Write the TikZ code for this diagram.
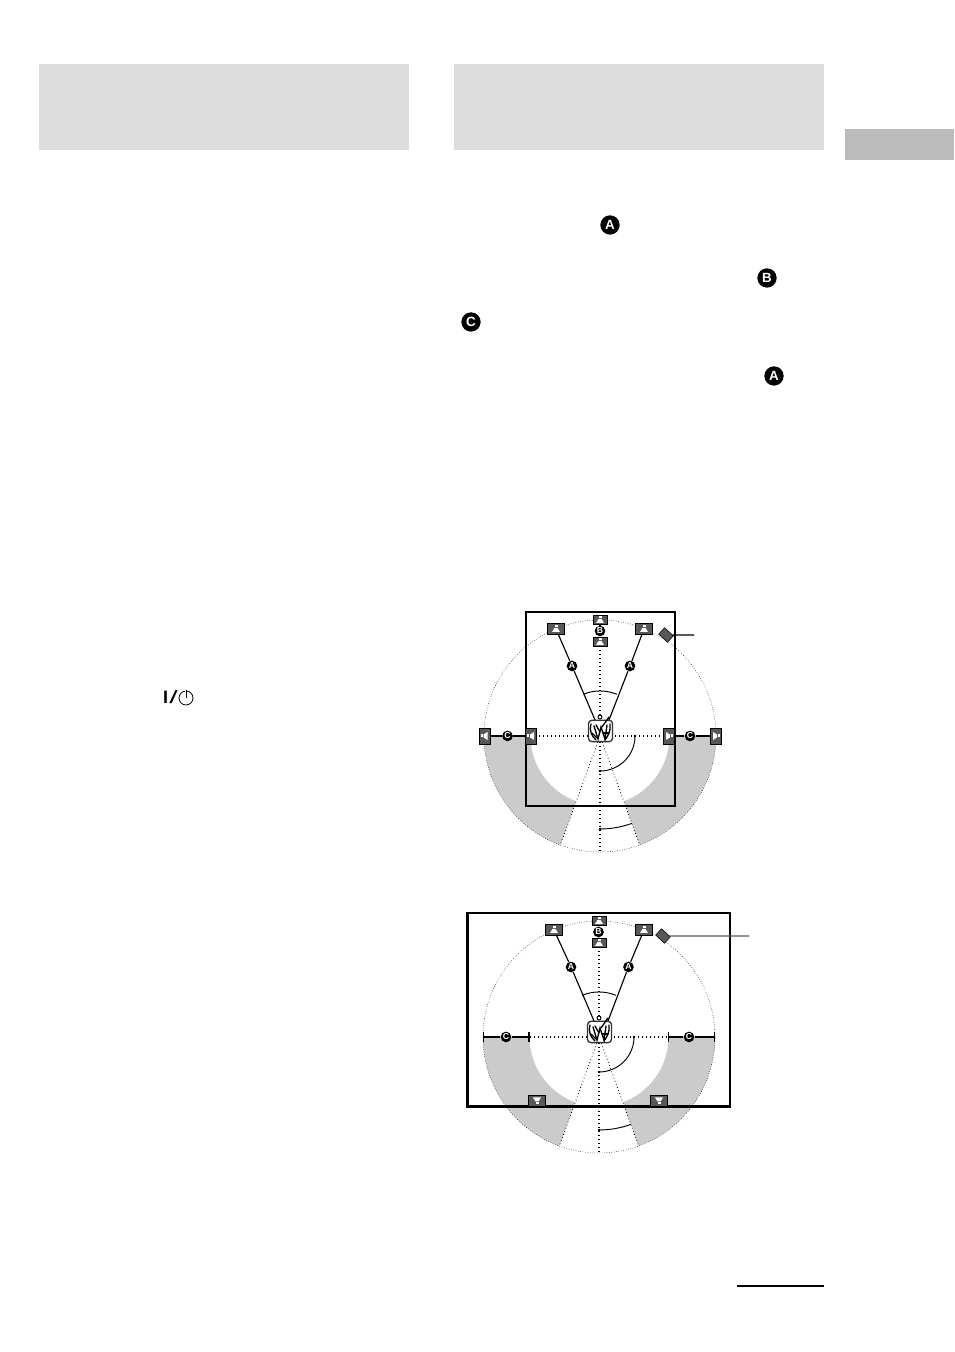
\documentclass[tikz,border=0pt]{standalone}
\usepackage{fontspec}
\setsansfont{Liberation Sans}
\definecolor{bandgray}{HTML}{DDDDDD}
\definecolor{tabgray}{HTML}{BBBBBB}
\definecolor{zonegray}{HTML}{CBCBCB}
\definecolor{boxgray}{HTML}{585858}
\tikzset{
  x=.75pt, y=.75pt,
  rimdots/.style={line width=.4pt, dash pattern=on .4pt off 1.4pt},
  axisdots/.style={line width=.8pt, dash pattern=on .8pt off 2.2pt},
  wedgedots/.style={line width=.6pt, dash pattern=on .6pt off 1.9pt},
  wire/.style={line width=.85pt},
  anglearc/.style={line width=.7pt},
  frameline/.style={line width=2pt},
  markbig/.style={circle, fill=black, text=white, inner sep=0pt, minimum size=14.5pt,
    font=\sffamily\bfseries\fontsize{10}{10}\selectfont},
  marksmall/.style={circle, fill=black, text=white, inner sep=0pt, minimum size=8pt,
    font=\sffamily\bfseries\fontsize{6.5}{6.5}\selectfont},
  spkbox/.style={rectangle, draw=black, line width=.4pt, fill=boxgray, inner sep=0pt,
    outer sep=0pt, minimum width=13pt, minimum height=8pt,
    path picture={
      \fill[white] ([shift={(-4,-3)}]path picture bounding box.center) --
        ([shift={(4,-3)}]path picture bounding box.center) --
        ([shift={(1.5,1)}]path picture bounding box.center) --
        ([shift={(-1.5,1)}]path picture bounding box.center) -- cycle;
      \fill[white] ([shift={(-1.5,2)}]path picture bounding box.center) rectangle
        ([shift={(1.5,4)}]path picture bounding box.center);
    }},
  spkside/.style={spkbox, minimum width=12pt, minimum height=8.5pt},
  spkcentre/.style={spkbox, minimum width=10.5pt, minimum height=7pt},
  subbox/.style={rectangle, draw=black, line width=.4pt, fill=boxgray, inner sep=0pt,
    outer sep=0pt, minimum width=9pt, minimum height=6.5pt, rotate=-43},
  tvbox/.style={rectangle, rounded corners=2.5pt, draw=black!80, line width=1pt, fill=white,
    inner sep=0pt, minimum width=18pt, minimum height=16pt},
  tvstroke/.style={line width=1pt, line cap=round},
  arcend/.style={circle, fill=black, inner sep=0pt, minimum size=2pt},
}
\begin{document}
\begin{tikzpicture}
  \useasboundingbox (0,0) rectangle (954,1352);

  % Title bands
  \fill[bandgray] (39,1288) rectangle (409,1202);
  \fill[bandgray] (454,1288) rectangle (824,1202);
  \fill[tabgray] (844.5,1223) rectangle (954,1192);

  % Marks in the text
  \node[markbig] (markA) at (610,1127) {A};
  \node[markbig] (markB) at (767,1074) {B};
  \node[markbig] (markC) at (471,1030) {C};
  \node[markbig] (markAb) at (774,976) {A};

  % Power symbol
  \node[inner sep=0pt, font=\sffamily\fontsize{13.5}{13.5}\selectfont] (powerlabel) at (170.5,654.5) {\textbf{I}\kern.8pt\scalebox{1.7}[1]{/}};
  \draw[line width=.6pt] (186,654) circle (7);
  \draw[line width=.9pt, white] (186,663) -- (186,656);
  \draw[line width=.6pt] (186,662) -- (186,654);

  % Rule at the foot
  \coordinate (ruleL) at (737,66);
  \coordinate (ruleR) at (824,66);
  \draw[line width=.8pt] (ruleL) -- (ruleR);

  % Upper plan
  \begin{scope}[shift={(600,616)}]
    % Grey zones
    \fill[zonegray] (0:116) arc (0:-70:116) -- (-70:69.5) arc (-70:0:69.5) -- cycle;
    \fill[zonegray] (180:116) arc (180:250:116) -- (250:69.5) arc (250:180:69.5) -- cycle;

    % Circle and axes
    \draw[rimdots] (0,0) circle (116);
    \draw[axisdots] (-69,0) -- (69,0);
    \draw[axisdots] (0,94) -- (0,-116);
    \foreach \ang in {-70,250}
      \draw[wedgedots] (0,0) -- (\ang:116);

    % Room
    \draw[frameline] (-74,124) rectangle (75,-70);

    % Angles
    \draw[anglearc] (112:45) arc (112:68:45);
    \draw[anglearc] (35,0) arc (0:-90:35);
    \draw[anglearc] (0,-93) arc (-90:-70:93);
    \node[arcend] (dotA) at (0,-35) {};
    \node[arcend] (dotB) at (35,0) {};
    \node[arcend] (dotC) at (0,-93) {};

    % Listener
    \node[tvbox] (tvU) at (0.5,5) {};
    \coordinate (tvUl) at (-5,16);
    \coordinate (tvUr) at (9,16);
    \draw[tvstroke] (-9,12) .. controls (-11,4) and (-8,0) .. (-4,-4);
    \draw[tvstroke] (10,12) .. controls (11,5) and (8,0) .. (5,-4);
    \draw[tvstroke] (-6,10) -- (-2,-3) -- (1,9) -- (5,-3) -- (7,11);
    \draw[tvstroke] (-4,11) -- (0,4);
    \draw[tvstroke] (2,9) -- (9,19);
    \draw[tvstroke] (-8,3) -- (-3,-2);
    \draw[tvstroke] (3,3) -- (9,3);
    \draw[line width=.7pt, fill=white] (0,19) circle (2);

    % Speakers
    \node[spkbox] (spkFL) at (-44,107) {};
    \node[spkbox] (spkFR) at (44,107) {};
    \node[spkcentre] (spkCa) at (0,116) {};
    \node[spkcentre] (spkCb) at (0,94) {};
    \node[subbox] (subU) at (66,101) {};
    \node[spkside, rotate=90] (spkLo) at (-115.5,0) {};
    \node[spkside, rotate=90] (spkLi) at (-69,0) {};
    \node[spkside, rotate=-90] (spkRi) at (69,0) {};
    \node[spkside, rotate=-90] (spkRo) at (116,0) {};
    \coordinate (leadU) at (94,101);

    % Marks
    \node[marksmall] (markAl) at (-28,70) {A};
    \node[marksmall] (markAr) at (30,70) {A};
    \node[marksmall] (markBc) at (0,105) {B};
    \node[marksmall] (markCl) at (-92.5,0) {C};
    \node[marksmall] (markCr) at (90,0) {C};

    % Wires
    \draw[wire] (spkFL) -- (markAl) -- (tvUl);
    \draw[wire] (spkFR) -- (markAr) -- (tvUr);
    \draw[wire] (spkCa) -- (markBc) -- (spkCb);
    \draw[wire] (spkLo) -- (markCl) -- (spkLi);
    \draw[wire] (spkRi) -- (markCr) -- (spkRo);
    \draw[wire] (subU) -- (leadU);
  \end{scope}

  % Lower plan
  \begin{scope}[shift={(599,315)}]
    % Grey zones
    \fill[zonegray] (0:116) arc (0:-70:116) -- (-70:69.5) arc (-70:0:69.5) -- cycle;
    \fill[zonegray] (180:116) arc (180:250:116) -- (250:69.5) arc (250:180:69.5) -- cycle;

    % Circle and axes
    \draw[rimdots] (0,0) circle (116);
    \draw[axisdots] (-69.5,0) -- (69,0);
    \draw[axisdots] (0,94) -- (0,-116);
    \foreach \ang in {-70,250}
      \draw[wedgedots] (0,0) -- (\ang:116);

    % Room
    \draw[frameline] (-131.5,124) rectangle (131,-69.5);

    % Angles
    \draw[anglearc] (112:45) arc (112:68:45);
    \draw[anglearc] (35,0) arc (0:-90:35);
    \draw[anglearc] (0,-93) arc (-90:-70:93);
    \node[arcend] (dotD) at (0,-35) {};
    \node[arcend] (dotE) at (35,0) {};
    \node[arcend] (dotF) at (0,-93) {};

    % Listener
    \node[tvbox] (tvL) at (0.5,5) {};
    \coordinate (tvLl) at (-5,16);
    \coordinate (tvLr) at (9,16);
    \draw[tvstroke] (-9,12) .. controls (-11,4) and (-8,0) .. (-4,-4);
    \draw[tvstroke] (10,12) .. controls (11,5) and (8,0) .. (5,-4);
    \draw[tvstroke] (-6,10) -- (-2,-3) -- (1,9) -- (5,-3) -- (7,11);
    \draw[tvstroke] (-4,11) -- (0,4);
    \draw[tvstroke] (2,9) -- (9,19);
    \draw[tvstroke] (-8,3) -- (-3,-2);
    \draw[tvstroke] (3,3) -- (9,3);
    \draw[line width=.7pt, fill=white] (0,19) circle (2);

    % Speakers
    \node[spkbox] (spkGL) at (-45,107) {};
    \node[spkbox] (spkGR) at (45,107) {};
    \node[spkcentre] (spkDa) at (0,116) {};
    \node[spkcentre] (spkDb) at (0,94) {};
    \node[subbox] (subL) at (64,101) {};
    \node[spkbox, rotate=180] (spkBL) at (-62,-63.5) {};
    \node[spkbox, rotate=180] (spkBR) at (60,-63.5) {};
    \coordinate (leadL) at (150,101);
    \coordinate (tickLo) at (-116,0);
    \coordinate (tickLi) at (-69.5,0);
    \coordinate (tickRi) at (69,0);
    \coordinate (tickRo) at (116,0);

    % Marks
    \node[marksmall] (markAm) at (-28,70) {A};
    \node[marksmall] (markAn) at (29.5,70) {A};
    \node[marksmall] (markBd) at (-.5,105) {B};
    \node[marksmall] (markCm) at (-93,0) {C};
    \node[marksmall] (markCn) at (90,0) {C};

    % Wires
    \draw[wire] (spkGL) -- (markAm) -- (tvLl);
    \draw[wire] (spkGR) -- (markAn) -- (tvLr);
    \draw[wire] (spkDa) -- (markBd) -- (spkDb);
    \draw[wire, |-] (tickLo) -- (markCm);
    \draw[wire, -|] (markCm) -- (tickLi);
    \draw[wire, |-] (tickRi) -- (markCn);
    \draw[wire, -|] (markCn) -- (tickRo);
    \draw[wire, black!65] (subL) -- (leadL);
  \end{scope}
\end{tikzpicture}
\end{document}
